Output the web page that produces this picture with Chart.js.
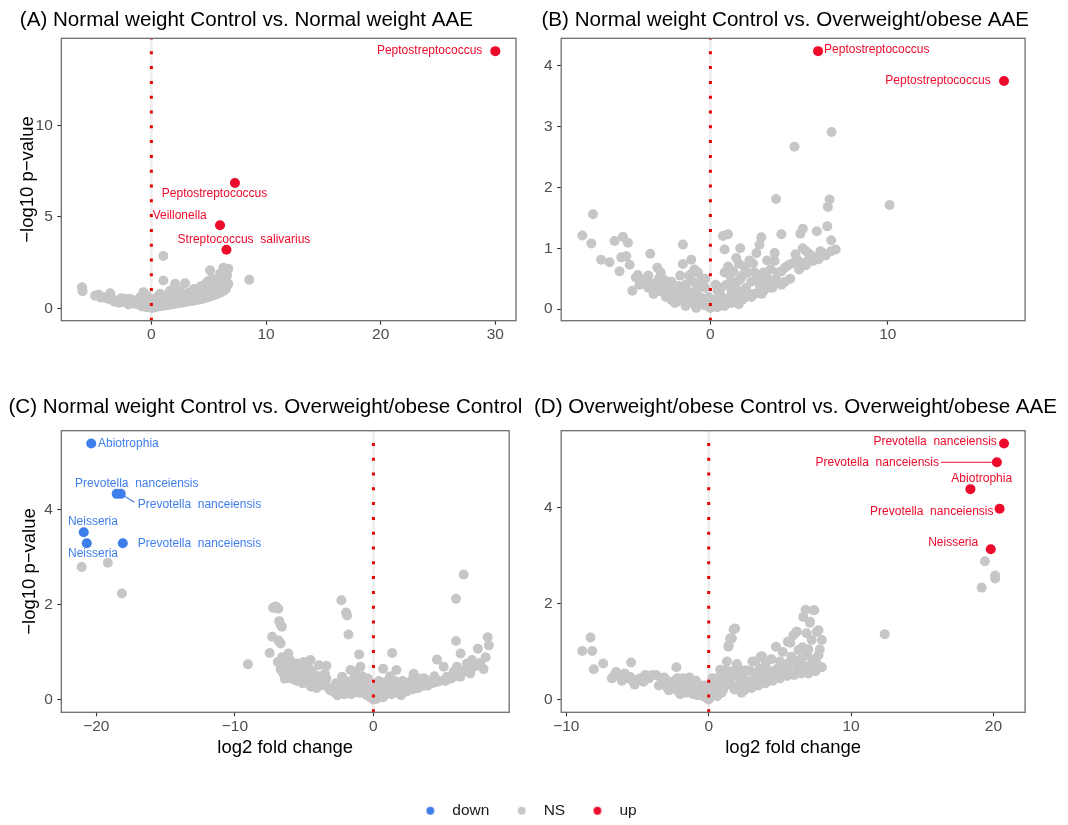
<!DOCTYPE html>
<html><head><meta charset="utf-8">
<script src="https://cdn.jsdelivr.net/npm/chart.js@4.4.1/dist/chart.umd.min.js"></script>
<style>
html,body{margin:0;padding:0;background:#fff;}
body{width:1068px;height:825px;position:relative;overflow:hidden;}
canvas{position:absolute;}
</style></head><body>
<canvas id="cA" width="560" height="380" style="left:0px;top:0px"></canvas>
<canvas id="cB" width="534" height="380" style="left:534px;top:0px"></canvas>
<canvas id="cC" width="560" height="400" style="left:0px;top:380px"></canvas>
<canvas id="cD" width="534" height="400" style="left:534px;top:380px"></canvas>
<canvas id="cL" width="1068" height="120" style="left:0px;top:785px"></canvas>
<script>
// ---------------- DATA ----------------
const titleA = '(A) Normal weight Control vs. Normal weight AAE';
const titleB = '(B) Normal weight Control vs. Overweight/obese AAE';
const titleC = '(C) Normal weight Control vs. Overweight/obese Control';
const titleD = '(D) Overweight/obese Control vs. Overweight/obese AAE';
const yAxisTitle = '\u2212log10 p\u2212value';
const xAxisTitle = 'log2 fold change';
const legendNames = ['down', 'NS', 'up'];

const xTicksA = [0, 10, 20, 30];      const xTickLabelsA = ['0', '10', '20', '30'];
const yTicksA = [0, 5, 10];           const yTickLabelsA = ['0', '5', '10'];
const xTicksB = [0, 10];              const xTickLabelsB = ['0', '10'];
const yTicksB = [0, 1, 2, 3, 4];      const yTickLabelsB = ['0', '1', '2', '3', '4'];
const xTicksC = [-20, -10, 0];        const xTickLabelsC = ['\u221220', '\u221210', '0'];
const yTicksC = [0, 2, 4];            const yTickLabelsC = ['0', '2', '4'];
const xTicksD = [-10, 0, 10, 20];     const xTickLabelsD = ['\u221210', '0', '10', '20'];
const yTicksD = [0, 2, 4];            const yTickLabelsD = ['0', '2', '4'];

// significant taxa [log2FC, -log10 p]
const sigA = [[30.0, 14.05], [7.29, 6.84], [5.99, 4.53], [6.55, 3.2]];
const sigNamesA = ['Peptostreptococcus', 'Peptostreptococcus', 'Veillonella', 'Streptococcus  salivarius'];
const sigB = [[6.07, 4.24], [16.55, 3.75]];
const sigNamesB = ['Peptostreptococcus', 'Peptostreptococcus'];
const sigC = [[-20.37, 5.40], [-18.53, 4.34], [-18.24, 4.34], [-20.91, 3.53], [-20.69, 3.30], [-18.09, 3.30]];
const sigNamesC = ['Abiotrophia', 'Prevotella  nanceiensis', 'Prevotella  nanceiensis', 'Neisseria', 'Neisseria', 'Prevotella  nanceiensis'];
const sigD = [[20.74, 5.34], [20.24, 4.95], [18.38, 4.39], [20.43, 3.98], [19.81, 3.14]];
const sigNamesD = ['Prevotella  nanceiensis', 'Prevotella  nanceiensis', 'Abiotrophia', 'Prevotella  nanceiensis', 'Neisseria'];

// non-significant taxa [log2FC, -log10 p]
const nsA = [[-6.05,1.15],[-6.0,0.93],[-4.6,0.73],[-4.17,0.6],[-3.59,0.82],[-3.95,0.55],[-3.6,0.48],[-3.3,0.45],[-3.0,0.42],[-2.72,0.42],[-2.5,0.35],[-2.3,0.38],[-2.1,0.3],[-1.85,0.51],[-1.7,0.28],[-1.5,0.25],[-1.3,0.33],[-1.1,0.2],[-0.97,0.6],[-0.9,0.18],[-0.69,0.88],[-0.6,0.15],[-0.5,0.3],[-0.39,0.69],[-0.3,0.1],[-0.2,0.22],[-0.1,0.05],[0.0,0.02],[0.1,0.08],[0.2,0.15],[0.3,0.3],[0.4,0.12],[0.5,0.22],[0.6,0.45],[0.7,0.18],[0.77,0.79],[0.8,0.3],[0.9,0.25],[1.05,2.85],[1.05,1.52],[1.1,0.55],[1.2,0.3],[1.3,0.4],[1.4,0.25],[1.5,0.62],[1.64,0.97],[1.7,0.35],[1.8,0.5],[1.9,0.3],[2.07,1.34],[2.1,0.6],[2.22,0.33],[2.3,0.45],[2.4,0.7],[2.51,0.79],[2.6,0.4],[2.7,0.55],[2.8,0.38],[2.94,1.37],[3.0,0.62],[3.09,0.42],[3.2,0.5],[3.3,0.72],[3.4,0.45],[3.5,0.58],[3.66,0.7],[3.8,0.52],[3.9,0.85],[4.0,0.6],[4.1,0.5],[4.25,0.82],[4.35,0.65],[4.54,1.15],[4.6,0.75],[4.7,0.62],[4.83,1.41],[4.9,0.9],[5.0,0.7],[5.12,2.07],[5.2,1.0],[5.3,0.8],[5.41,1.34],[5.5,1.1],[5.6,0.85],[5.7,0.97],[5.8,1.2],[5.99,1.89],[5.99,1.52],[6.0,1.05],[6.1,1.3],[6.28,2.21],[6.28,1.15],[6.4,1.45],[6.5,1.65],[6.71,2.16],[6.71,1.34],[6.6,1.8],[8.54,1.56],[-3.2,0.35],[-2.8,0.3],[-2.0,0.2],[-1.5,0.4],[-1.0,0.35],[-0.8,0.1],[-0.4,0.05],[0.15,0.03],[0.35,0.06],[0.6,0.1],[0.9,0.12],[1.2,0.15],[1.5,0.18],[1.8,0.2],[2.1,0.24],[2.4,0.28],[2.7,0.3],[3.0,0.34],[3.3,0.38],[3.6,0.4],[3.9,0.44],[4.2,0.48],[4.5,0.52],[4.8,0.58],[5.1,0.64],[5.4,0.7],[5.7,0.76],[6.0,0.85],[6.3,0.95],[6.5,1.05],[1.0,0.4],[1.6,0.6],[2.0,0.8],[2.5,0.95],[3.5,0.9],[4.4,1.0],[5.2,1.2],[0.3,0.5],[-0.2,0.4],[-4.9,0.68],[-4.4,0.58],[-3.8,0.62],[-2.6,0.55],[-2.2,0.5],[-1.2,0.45],[-0.6,0.42],[0.2,0.35],[0.5,0.6],[1.3,0.7],[1.9,0.65],[2.3,1.0],[2.8,0.75],[3.2,0.85],[3.7,1.05],[4.1,0.95],[4.3,1.2],[4.7,1.3],[5.0,1.5],[5.3,1.6],[5.6,1.45],[5.9,1.7],[6.2,1.6],[6.5,1.9],[3.4,0.6],[3.8,0.7],[4.6,0.95],[5.9,1.0],[6.3,1.2]];

const nsB = [[-7.22,1.21],[-6.62,1.56],[-6.71,1.08],[-6.16,0.81],[-5.68,0.77],[-5.4,1.12],[-4.93,1.19],[-4.65,1.09],[-5.02,0.85],[-4.74,0.87],[-4.55,0.73],[-5.12,0.62],[-4.09,0.56],[-3.39,0.91],[-2.99,0.68],[-3.71,0.42],[-3.43,0.42],[-2.86,0.42],[-4.2,0.52],[-3.0,0.3],[-2.6,0.48],[-2.4,0.35],[-2.2,0.45],[-2.0,0.3],[-1.55,1.06],[-1.55,0.74],[-1.08,0.81],[-0.89,0.65],[-1.8,0.38],[-1.6,0.22],[-1.4,0.4],[-1.2,0.28],[-1.0,0.45],[-0.8,0.3],[-0.6,0.2],[-0.5,0.5],[-0.4,0.12],[-0.3,0.35],[-0.2,0.08],[-0.1,0.2],[0,0.02],[-2.5,0.2],[-2.2,0.15],[-1.9,0.12],[-1.3,0.1],[-0.9,0.08],[-3.2,0.25],[-0.7,0.6],[-1.2,0.55],[0.1,0.05],[0.2,0.15],[0.3,0.08],[0.4,0.3],[0.5,0.12],[0.6,0.22],[0.71,1.2],[0.99,1.23],[0.8,0.98],[0.9,0.4],[1.0,0.18],[1.1,0.55],[1.2,0.3],[1.3,0.62],[1.4,0.2],[1.46,0.84],[1.5,0.45],[1.68,1.0],[1.7,0.28],[1.8,0.55],[1.9,0.7],[2.0,0.35],[2.1,0.6],[2.2,0.25],[2.3,0.45],[2.4,0.75],[2.59,0.92],[2.6,0.5],[2.77,1.06],[2.87,1.18],[2.8,0.35],[2.87,0.29],[3.0,0.6],[3.1,0.45],[3.2,0.8],[3.34,0.35],[3.4,0.65],[3.62,0.79],[3.62,0.92],[3.7,1.81],[3.7,0.5],[3.9,0.43],[4.0,0.62],[4.0,1.23],[4.2,0.68],[4.4,0.72],[4.74,2.67],[4.6,0.75],[4.87,0.82],[5.0,0.78],[5.07,1.24],[5.21,1.32],[5.21,1.0],[5.38,0.72],[5.5,0.8],[5.78,0.79],[5.9,0.85],[6.0,1.28],[6.1,0.82],[6.34,0.92],[6.5,0.88],[6.59,1.36],[6.62,1.68],[6.72,1.8],[6.81,1.13],[6.83,2.91],[7.06,0.98],[10.1,1.71],[1.0,0.1],[1.5,0.15],[2.0,0.2],[2.5,0.25],[3.0,0.3],[3.5,0.35],[4.0,0.4],[-4.0,0.4],[-3.8,0.48],[-3.5,0.35],[-3.2,0.42],[-2.9,0.5],[-2.7,0.28],[-2.5,0.38],[-2.3,0.25],[-2.1,0.33],[-1.9,0.22],[-1.7,0.3],[-1.5,0.18],[-1.3,0.26],[-1.1,0.15],[-0.9,0.22],[-0.7,0.12],[-0.5,0.18],[-0.3,0.06],[-1.0,0.6],[-0.6,0.4],[-2.8,0.6],[-1.7,0.55],[-0.3,0.5],[0.3,0.4],[0.6,0.35],[0.8,0.6],[1.0,0.7],[1.2,0.45],[1.4,0.35],[1.6,0.75],[1.7,0.5],[2.2,0.8],[2.5,0.6],[2.7,0.45],[3.1,0.55],[3.3,0.48],[1.2,0.1],[1.8,0.15],[2.3,0.2],[2.9,0.25],[4.2,0.45],[3.8,0.6],[4.5,0.5],[4.8,0.9],[5.4,0.95],[5.6,0.9],[6.2,0.95],[6.8,0.95],[5.0,0.65],[-1.4,0.05],[-0.8,0.02],[0.4,0.03],[0.8,0.05],[-2.0,0.1],[1.6,0.08],[-3.5,0.55],[-4.4,0.3]];

const nsC = [[-21.06,2.8],[-19.17,2.89],[-18.16,2.24],[-9.06,0.75],[-7.24,1.94],[-6.87,1.92],[-7.05,1.97],[-6.8,1.66],[-6.61,1.54],[-6.7,1.58],[-7.31,1.33],[-6.7,1.19],[-6.85,1.25],[-7.49,0.99],[-6.14,0.98],[-6.02,0.84],[-5.53,0.77],[-5.04,0.8],[-4.54,0.84],[-3.93,0.73],[-3.39,0.72],[-6.51,0.7],[-6.51,0.56],[-6.02,0.52],[-5.28,0.45],[-4.79,0.38],[-4.3,0.34],[-3.81,0.31],[-3.31,0.27],[-6.3,0.85],[-6.0,0.7],[-5.8,0.6],[-5.6,0.55],[-5.4,0.65],[-5.2,0.5],[-5.0,0.6],[-4.8,0.55],[-4.6,0.5],[-4.4,0.6],[-4.2,0.45],[-4.0,0.5],[-3.8,0.45],[-3.6,0.4],[-3.5,0.55],[-6.2,0.62],[-5.9,0.45],[-5.5,0.4],[-5.1,0.35],[-4.7,0.7],[-4.9,0.65],[-5.7,0.72],[-6.6,0.9],[-6.4,0.45],[-4.5,0.28],[-4.1,0.25],[-2.31,2.1],[-1.97,1.84],[-1.9,1.78],[-1.8,1.38],[-1.03,0.96],[-2.86,0.17],[-2.5,0.28],[-2.26,0.49],[-1.66,0.63],[-1.3,0.59],[-0.94,0.7],[-0.7,0.35],[-1.17,0.21],[-1.53,0.31],[-2.0,0.4],[-2.7,0.35],[-2.4,0.15],[-2.1,0.12],[-1.8,0.2],[-1.4,0.45],[-1.0,0.15],[-0.8,0.5],[-0.5,0.1],[-0.3,0.25],[-0.2,0.05],[0,0.01],[0.1,0.05],[0.2,0.3],[0.3,0.08],[0.5,0.14],[0.7,0.66],[0.6,0.2],[0.8,0.1],[0.99,0.21],[1.1,0.3],[1.35,0.99],[1.46,0.24],[1.66,0.63],[1.7,0.35],[1.95,0.29],[2.1,0.4],[2.43,0.35],[2.6,0.25],[2.79,0.42],[3.0,0.3],[3.15,0.46],[3.4,0.35],[3.63,0.46],[3.9,0.3],[4.23,0.35],[4.59,0.85],[4.8,0.4],[5.07,0.7],[5.31,0.49],[5.6,0.45],[5.96,2.13],[5.96,1.24],[6.03,0.7],[6.27,0.49],[6.29,0.98],[6.51,2.64],[6.75,0.77],[6.99,0.56],[7.11,0.84],[7.23,0.7],[7.54,1.08],[7.95,0.65],[8.24,1.32],[8.33,1.15],[1.2,0.5],[0.4,0.4],[2.2,0.2],[2.9,0.55],[1.8,0.15],[4.4,0.5],[5.8,0.6],[6.6,0.62],[7.4,0.72],[-6.9,0.8],[-6.7,0.65],[-6.4,0.75],[-6.1,0.58],[-5.85,0.5],[-5.65,0.42],[-5.35,0.55],[-5.15,0.7],[-4.95,0.45],[-4.65,0.62],[-4.35,0.42],[-4.05,0.38],[-3.7,0.35],[-3.4,0.45],[-3.1,0.2],[-2.6,0.1],[-2.2,0.3],[-1.6,0.12],[-1.2,0.4],[-0.9,0.28],[-0.6,0.18],[-0.4,0.45],[-0.1,0.12],[0.2,0.02],[0.45,0.25],[0.7,0.06],[0.9,0.38],[1.3,0.12],[1.55,0.4],[2.0,0.1],[2.4,0.18],[2.8,0.22],[3.2,0.25],[3.6,0.3],[4.0,0.4],[4.6,0.38],[5.2,0.4],[5.9,0.5],[6.4,0.58],[7.0,0.65],[7.7,0.78],[8.1,0.9]];

const nsD = [[-8.88,1.02],[-8.18,1.02],[-8.3,1.3],[-8.07,0.64],[-7.41,0.76],[-6.62,0.52],[-6.01,0.48],[-6.3,0.5],[-5.45,0.78],[-5.3,0.38],[-5.7,0.45],[-4.46,0.52],[-3.99,0.52],[-4.58,0.38],[-5.0,0.42],[-3.15,0.47],[-2.68,0.35],[-2.27,0.68],[-1.96,0.28],[-1.36,0.47],[-1.0,0.21],[-0.53,0.14],[-3.5,0.3],[-2.9,0.25],[-2.4,0.4],[-2.2,0.2],[-1.8,0.45],[-1.6,0.15],[-1.2,0.3],[-0.9,0.4],[-0.8,0.1],[-0.6,0.3],[-0.4,0.08],[-0.2,0.2],[-0.1,0.03],[0,0.01],[-1.5,0.35],[-2.0,0.12],[0.1,0.05],[0.2,0.25],[0.3,0.1],[0.4,0.35],[0.5,0.15],[0.58,0.45],[0.7,0.25],[0.81,0.63],[0.9,0.35],[1.0,0.2],[1.1,0.5],[1.2,0.3],[1.28,0.8],[1.38,1.11],[1.4,1.14],[1.5,1.28],[1.63,1.28],[1.75,1.47],[1.86,1.49],[1.98,0.75],[1.5,0.45],[1.7,0.3],[2.0,0.5],[2.2,0.35],[2.4,0.55],[2.58,0.62],[2.7,0.4],[2.92,0.61],[3.06,0.8],[3.15,0.38],[3.27,0.8],[3.4,0.5],[3.62,0.45],[3.65,0.9],[3.74,0.91],[3.9,0.55],[4.09,0.52],[4.3,0.6],[4.55,0.59],[4.72,1.11],[4.8,0.65],[5.14,0.66],[5.3,0.7],[5.56,1.21],[5.5,0.75],[5.72,1.19],[5.8,0.9],[5.84,0.89],[5.95,1.35],[6.0,0.8],[6.16,1.42],[6.19,1.42],[6.3,1.04],[6.5,0.85],[6.64,1.73],[6.8,1.88],[6.87,1.39],[6.89,0.93],[6.9,0.7],[7.11,1.61],[7.12,1.63],[7.23,1.25],[7.24,0.76],[7.35,1.87],[7.42,1.87],[7.59,1.42],[7.71,1.45],[7.71,0.93],[7.95,1.25],[7.95,0.68],[7.5,0.6],[7.0,0.55],[12.36,1.37],[19.4,2.89],[20.12,2.59],[20.12,2.53],[19.17,2.34],[2.5,0.2],[3.0,0.25],[3.5,0.3],[4.0,0.35],[4.5,0.4],[5.0,0.45],[5.5,0.5],[6.0,0.52],[6.5,0.55],[-6.8,0.45],[-6.5,0.58],[-6.1,0.4],[-5.9,0.55],[-5.5,0.48],[-5.2,0.32],[-4.8,0.45],[-4.2,0.45],[-3.7,0.52],[-3.3,0.4],[-3.0,0.42],[-2.8,0.2],[-2.5,0.28],[-2.2,0.45],[-1.9,0.15],[-1.7,0.35],[-1.4,0.22],[-1.1,0.12],[-0.7,0.2],[-0.3,0.3],[0.25,0.45],[0.6,0.08],[0.9,0.15],[1.2,0.62],[1.6,0.6],[1.8,0.22],[2.1,0.65],[2.3,0.15],[2.8,0.3],[3.2,0.55],[3.6,0.65],[4.2,0.45],[4.6,0.5],[5.0,0.8],[5.3,0.55],[5.7,0.6],[6.2,0.65],[6.6,1.1],[7.0,1.05],[7.3,0.85],[7.8,1.05],[6.4,0.72],[7.6,0.75],[4.0,0.75],[4.4,0.85],[5.2,1.0]];

// ---------------- STYLE ----------------
const FONT = "'Liberation Sans', Arial, Helvetica, sans-serif";
const COLORS = { down: '#3E7EEA', NS: '#C6C6C6', up: '#EC0B2B' };

// label placement relative to its point (pixels)
const labelStyleA = [{align:'right',dx:-13,dy:0},{align:'center',dx:-20.4,dy:11},{align:'right',dx:-13.3,dy:-9.3},{align:'center',dx:17.5,dy:-10.3}];
const labelStyleB = [{align:'left',dx:6,dy:-1.4},{align:'right',dx:-13.3,dy:0}];
const labelStyleC = [{align:'left',dx:6.8,dy:0},{align:'center',dx:20.1,dy:-10.6},{align:'left',dx:17,dy:10.7,seg:[13.6,8.4]},{align:'center',dx:9.2,dy:-10.4},{align:'center',dx:6.2,dy:10.3},{align:'left',dx:15,dy:0}];
const labelStyleD = [{align:'right',dx:-7.2,dy:-1.7},{align:'right',dx:-57.9,dy:0,seg:[-56,0]},{align:'center',dx:11.3,dy:-10},{align:'right',dx:-6.1,dy:2.4},{align:'right',dx:-12.6,dy:-6.4}];

const layoutA = {padL:19.8, yW:41.5, rW:44,   padB:29.3, xH:30, tTop:7.64,  tBot:5.94,  yTitlePad:-1.5, xTitlePad:0};
const layoutB = {padL:7.5,  yW:19.7, rW:42.9, padB:29.3, xH:30, tTop:7.64,  tBot:5.94,  yTitlePad:0,    xTitlePad:0};
const layoutC = {padL:8.5,  yW:52.8, rW:50.8, padB:19.7, xH:48, tTop:15.34, tBot:10.64, yTitlePad:12.5, xTitlePad:0.9};
const layoutD = {padL:0,    yW:27.2, rW:42.9, padB:19.7, xH:48, tTop:15.34, tBot:10.64, yTitlePad:0,    xTitlePad:0.9};

Chart.defaults.font.family = FONT;

function expanded(vals) {
  const mn = Math.min(...vals), mx = Math.max(...vals), s = mx - mn;
  return [mn - 0.05 * s, mx + 0.05 * s];
}

function panelPlugin(sig, names, styles, color) {
  return {
    id: 'panelDecor',
    afterDatasetsDraw(chart) {
      const ctx = chart.ctx, xs = chart.scales.x, ys = chart.scales.y;
      ctx.save();
      ctx.font = '12px ' + FONT;
      ctx.fillStyle = color; ctx.strokeStyle = color; ctx.lineWidth = 1.1;
      ctx.textBaseline = 'middle';
      sig.forEach((p, i) => {
        const st = styles[i];
        const px = xs.getPixelForValue(p[0]), py = ys.getPixelForValue(p[1]);
        if (st.seg) { ctx.beginPath(); ctx.moveTo(px, py); ctx.lineTo(px + st.seg[0], py + st.seg[1]); ctx.stroke(); }
        ctx.textAlign = st.align;
        ctx.fillText(names[i], px + st.dx, py + st.dy);
      });
      const a = chart.chartArea;
      ctx.strokeStyle = '#6e6e6e'; ctx.lineWidth = 1.3;
      ctx.strokeRect(a.left, a.top, a.right - a.left, a.bottom - a.top);
      ctx.restore();
    }
  };
}

function makePanel(id, p) {
  const allX = p.ns.map(d => d[0]).concat(p.sig.map(d => d[0]));
  const allY = p.ns.map(d => d[1]).concat(p.sig.map(d => d[1]));
  const [xmin, xmax] = expanded(allX);
  const [ymin, ymax] = expanded(allY);
  const L = p.layout;
  const sigColor = COLORS[p.sigType];
  const tickFont = { family: FONT, size: 15.5, lineHeight: 1.2 };
  new Chart(document.getElementById(id), {
    type: 'scatter',
    data: {
      datasets: [
        { label: 'zero', data: [{x:0, y:ymin}, {x:0, y:ymax}], showLine: true, borderColor: '#E60000', borderWidth: 3, borderDash: [3, 11.8], borderCapStyle: 'butt', pointRadius: 0, order: 0, xAxisID: 'x', yAxisID: 'y' },
        { label: p.sigType, data: p.sig.map(d => ({x: d[0], y: d[1]})), backgroundColor: sigColor, borderWidth: 0, pointRadius: 5, order: 1, xAxisID: 'x', yAxisID: 'y' },
        { label: 'NS', data: p.ns.map(d => ({x: d[0], y: d[1]})), backgroundColor: COLORS.NS, borderWidth: 0, pointRadius: 5, order: 2, xAxisID: 'x', yAxisID: 'y' },
        { label: 'zeroBg', data: [{x:0, y:ymin}, {x:0, y:ymax}], showLine: true, borderColor: '#EDEDED', borderWidth: 2.5, pointRadius: 0, order: 3, xAxisID: 'x', yAxisID: 'y' }
      ]
    },
    options: {
      responsive: false, animation: false, devicePixelRatio: 1, events: [],
      layout: { padding: { left: L.padL, right: 0, top: 0, bottom: L.padB } },
      plugins: {
        legend: { display: false }, tooltip: { enabled: false },
        title: { display: true, text: p.title, align: 'start', color: '#000',
                 font: { family: FONT, size: 20.6, weight: 'normal', lineHeight: 1.2 },
                 padding: { top: L.tTop, bottom: L.tBot } }
      },
      scales: {
        x: {
          type: 'linear', position: 'bottom', min: xmin, max: xmax,
          afterBuildTicks: s => { s.ticks = p.xTicks.map(v => ({ value: v })); },
          ticks: { font: tickFont, color: '#4d4d4d', padding: 1, maxRotation: 0, autoSkip: false,
                   callback: v => { const i = p.xTicks.indexOf(v); return i >= 0 ? p.xTickLabels[i] : ''; } },
          grid: { display: true, drawOnChartArea: false, drawTicks: true, tickLength: 4, tickColor: '#333', tickWidth: 1.1 },
          border: { display: false },
          title: { display: !!p.xTitle, text: p.xTitle || '', color: '#000',
                   font: { family: FONT, size: 18.5, lineHeight: 1.2 }, padding: { top: 0, bottom: L.xTitlePad } },
          afterFit: s => { s.height = L.xH; }
        },
        y: {
          type: 'linear', position: 'left', min: ymin, max: ymax,
          afterBuildTicks: s => { s.ticks = p.yTicks.map(v => ({ value: v })); },
          ticks: { font: tickFont, color: '#4d4d4d', padding: 4.5, autoSkip: false,
                   callback: v => { const i = p.yTicks.indexOf(v); return i >= 0 ? p.yTickLabels[i] : ''; } },
          grid: { display: true, drawOnChartArea: false, drawTicks: true, tickLength: 4, tickColor: '#333', tickWidth: 1.1 },
          border: { display: false },
          title: { display: !!p.yTitle, text: p.yTitle || '', color: '#000',
                   font: { family: FONT, size: 18.5, lineHeight: 1.0 }, padding: { top: L.yTitlePad, bottom: 0 } },
          afterFit: s => { s.width = L.yW; }
        },
        yRight: {
          type: 'linear', position: 'right', display: true,
          ticks: { display: false }, grid: { display: false, drawTicks: false }, border: { display: false },
          afterFit: s => { s.width = L.rW; }
        }
      }
    },
    plugins: [panelPlugin(p.sig, p.names, p.labelStyle, sigColor)]
  });
}

makePanel('cA', { title: titleA, sig: sigA, names: sigNamesA, ns: nsA, sigType: 'up', labelStyle: labelStyleA, layout: layoutA,
  xTicks: xTicksA, xTickLabels: xTickLabelsA, yTicks: yTicksA, yTickLabels: yTickLabelsA, yTitle: yAxisTitle, xTitle: null });
makePanel('cB', { title: titleB, sig: sigB, names: sigNamesB, ns: nsB, sigType: 'up', labelStyle: labelStyleB, layout: layoutB,
  xTicks: xTicksB, xTickLabels: xTickLabelsB, yTicks: yTicksB, yTickLabels: yTickLabelsB, yTitle: null, xTitle: null });
makePanel('cC', { title: titleC, sig: sigC, names: sigNamesC, ns: nsC, sigType: 'down', labelStyle: labelStyleC, layout: layoutC,
  xTicks: xTicksC, xTickLabels: xTickLabelsC, yTicks: yTicksC, yTickLabels: yTickLabelsC, yTitle: yAxisTitle, xTitle: xAxisTitle });
makePanel('cD', { title: titleD, sig: sigD, names: sigNamesD, ns: nsD, sigType: 'up', labelStyle: labelStyleD, layout: layoutD,
  xTicks: xTicksD, xTickLabels: xTickLabelsD, yTicks: yTicksD, yTickLabels: yTickLabelsD, yTitle: null, xTitle: xAxisTitle });

// legend key glyphs (small filled circles used as point style images)
function dotImage(color) {
  const c = document.createElement('canvas');
  c.width = 10; c.height = 10;
  const g = c.getContext('2d');
  g.fillStyle = color; g.beginPath(); g.arc(5, 5, 3.9, 0, Math.PI * 2); g.fill();
  return c;
}
const legendDots = legendNames.map(n => dotImage(COLORS[n]));

new Chart(document.getElementById('cL'), {
  type: 'scatter',
  data: { datasets: legendNames.map(n => ({ label: n, data: [], backgroundColor: COLORS[n], borderColor: COLORS[n], borderWidth: 0 })) },
  options: {
    responsive: false, animation: false, devicePixelRatio: 1, events: [],
    layout: { padding: { top: 0, right: 15.25, left: 0, bottom: 0 } },
    scales: { x: { display: false }, y: { display: false } },
    plugins: {
      tooltip: { enabled: false },
      legend: { display: true, position: 'top', align: 'center',
        labels: { usePointStyle: true, pointStyleWidth: 28.5, boxHeight: 8, padding: 18, color: '#1a1a1a',
                  font: { family: FONT, size: 15.5 },
                  generateLabels: () => legendNames.map((n, i) => ({
                    text: n, fillStyle: COLORS[n], strokeStyle: COLORS[n], lineWidth: 0,
                    pointStyle: legendDots[i], hidden: false, datasetIndex: i, fontColor: '#1a1a1a'
                  })) } }
    }
  }
});
</script>
</body></html>
